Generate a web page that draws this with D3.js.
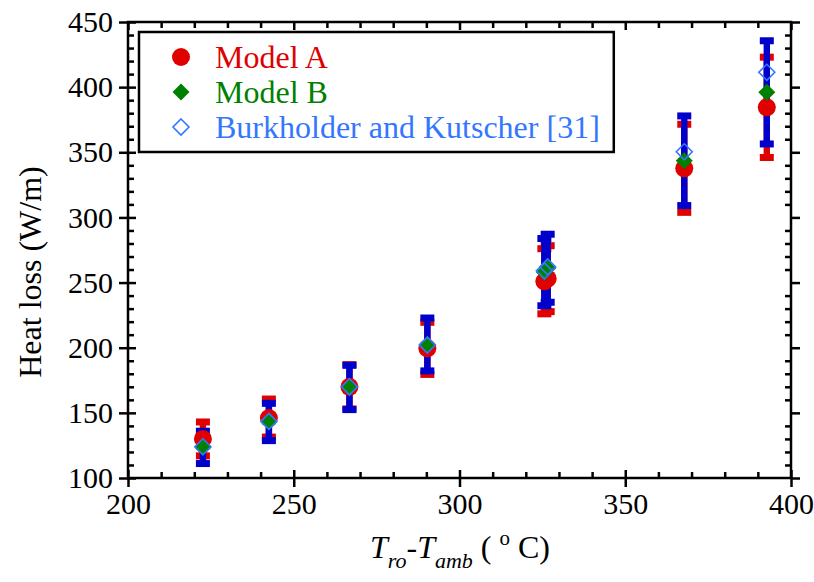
<!DOCTYPE html>
<html>
<head>
<meta charset="utf-8">
<script src="https://cdn.jsdelivr.net/npm/d3@7/dist/d3.min.js"></script>
<style>
  html, body { margin: 0; padding: 0; background: #fff; }
  svg { display: block; }
  text { font-family: "Liberation Serif", "Times New Roman", serif; }
</style>
</head>
<body>
<svg id="chart" width="814" height="582"></svg>
<script>
// ---------------- data ----------------
const tempDiff   = [222.6, 242.5, 266.8, 290.3, 325.6, 326.6, 367.8, 392.7];
const modelA     = [130, 146, 170, 199.5, 251, 253, 337.7, 384.5];
const modelAErr  = [13, 14.6, 17, 20, 25, 25.3, 33.8, 38.5];
const modelB     = [123.5, 143, 169.5, 202.5, 258, 261, 343.5, 396];
const modelBErr  = [12.4, 14.3, 17, 20.3, 25.8, 26.1, 34.4, 39.6];
const burkholder = [124, 143.5, 170, 202, 259, 262, 350.4, 411.4];

const xTicks = [200, 250, 300, 350, 400];
const yTicks = [100, 150, 200, 250, 300, 350, 400, 450];
const legendLabels = ["Model A", "Model B", "Burkholder and Kutscher [31]"];

// ---------------- layout ----------------
const svg = d3.select("#chart");
const pL = 128, pR = 791, pT = 22, pB = 478;
const x = d3.scaleLinear().domain([200, 400]).range([pL, pR]);
const y = d3.scaleLinear().domain([100, 450]).range([pB, pT]);

const RED = "#e00000", GREEN = "#008000", DBLUE = "#0000cc", LBLUE = "#3377ff";
const xMinor = d3.range(200, 401, 10).filter(v => v % 50 !== 0);
const yMinor = d3.range(100, 451, 10).filter(v => v % 50 !== 0);

function styleAxis(g) {
  g.select(".domain").remove();
  g.selectAll("line").attr("stroke", "#000").attr("stroke-width", 2.5);
  g.selectAll("text").attr("fill", "#000").attr("font-size", 30)
    .attr("font-family", "Liberation Serif, Times New Roman, serif");
}
function noLabel(a) { return a.tickFormat(""); }

// bottom axis
svg.append("g").attr("transform", `translate(0,${pB})`)
  .call(d3.axisBottom(x).tickValues(xTicks).tickSize(9).tickPadding(6).tickFormat(d3.format("d")))
  .call(styleAxis);
svg.append("g").attr("transform", `translate(0,${pB})`)
  .call(noLabel(d3.axisBottom(x).tickValues(xTicks).tickSize(-8))).call(styleAxis);
svg.append("g").attr("transform", `translate(0,${pB})`)
  .call(noLabel(d3.axisBottom(x).tickValues(xMinor).tickSize(-6))).call(styleAxis);
// top axis
svg.append("g").attr("transform", `translate(0,${pT})`)
  .call(noLabel(d3.axisTop(x).tickValues(xTicks).tickSize(-8))).call(styleAxis);
svg.append("g").attr("transform", `translate(0,${pT})`)
  .call(noLabel(d3.axisTop(x).tickValues(xMinor).tickSize(-6))).call(styleAxis);
// left axis
svg.append("g").attr("transform", `translate(${pL},0)`)
  .call(d3.axisLeft(y).tickValues(yTicks).tickSize(9).tickPadding(6).tickFormat(d3.format("d")))
  .call(styleAxis);
svg.append("g").attr("transform", `translate(${pL},0)`)
  .call(noLabel(d3.axisLeft(y).tickValues(yTicks).tickSize(-8))).call(styleAxis);
svg.append("g").attr("transform", `translate(${pL},0)`)
  .call(noLabel(d3.axisLeft(y).tickValues(yMinor).tickSize(-6))).call(styleAxis);
// right axis
svg.append("g").attr("transform", `translate(${pR},0)`)
  .call(noLabel(d3.axisRight(y).tickValues(yTicks).tickSize(9))).call(styleAxis);
svg.append("g").attr("transform", `translate(${pR},0)`)
  .call(noLabel(d3.axisRight(y).tickValues(yMinor).tickSize(-6))).call(styleAxis);

// frame
svg.append("rect").attr("x", pL).attr("y", pT)
  .attr("width", pR - pL).attr("height", pB - pT)
  .attr("fill", "none").attr("stroke", "#000").attr("stroke-width", 2.5);

// ---------------- error bars ----------------
function errorBars(vals, errs, color) {
  const g = svg.append("g").attr("fill", color);
  vals.forEach((v, i) => {
    const cx = x(tempDiff[i]);
    const yHi = y(v + errs[i]), yLo = y(v - errs[i]);
    g.append("rect").attr("x", cx - 3.2).attr("y", yHi).attr("width", 6.4).attr("height", yLo - yHi);
    g.append("rect").attr("x", cx - 7).attr("y", yHi - 3.5).attr("width", 14).attr("height", 7);
    g.append("rect").attr("x", cx - 7).attr("y", yLo - 3.5).attr("width", 14).attr("height", 7);
  });
}
errorBars(modelA, modelAErr, RED);
errorBars(modelB, modelBErr, DBLUE);

// ---------------- markers ----------------
const diamond = (r) => `M0,${-r}L${r},0L0,${r}L${-r},0Z`;

svg.append("g").selectAll("circle").data(modelA).join("circle")
  .attr("cx", (d, i) => x(tempDiff[i])).attr("cy", d => y(d))
  .attr("r", 9).attr("fill", RED);

svg.append("g").selectAll("path").data(modelB).join("path")
  .attr("transform", (d, i) => `translate(${x(tempDiff[i])},${y(d)})`)
  .attr("d", diamond(8.5)).attr("fill", GREEN);

svg.append("g").selectAll("path").data(burkholder).join("path")
  .attr("transform", (d, i) => `translate(${x(tempDiff[i])},${y(d)})`)
  .attr("d", diamond(8)).attr("fill", "none").attr("stroke", LBLUE).attr("stroke-width", 1.6);

// ---------------- legend ----------------
const lg = svg.append("g");
const rowsY = [57, 92, 127];
const legColors = [RED, GREEN, LBLUE];
const legTexts = legendLabels.map((t, i) =>
  lg.append("text").attr("x", 215).attr("y", rowsY[i] + 11)
    .attr("font-size", 32).attr("fill", legColors[i]).text(t));
const maxW = d3.max(legTexts, t => t.node().getComputedTextLength());
lg.insert("rect", ":first-child").attr("x", 139).attr("y", 32)
  .attr("width", 215 + maxW + 14 - 139).attr("height", 120)
  .attr("fill", "#fff").attr("stroke", "#000").attr("stroke-width", 2.5);
lg.append("circle").attr("cx", 181).attr("cy", rowsY[0]).attr("r", 9).attr("fill", RED);
lg.append("path").attr("transform", `translate(181,${rowsY[1]})`).attr("d", diamond(8.5)).attr("fill", GREEN);
lg.append("path").attr("transform", `translate(181,${rowsY[2]})`).attr("d", diamond(8))
  .attr("fill", "none").attr("stroke", LBLUE).attr("stroke-width", 1.6);

// ---------------- axis titles ----------------
svg.append("text").attr("transform", "translate(41,272) rotate(-90)")
  .attr("text-anchor", "middle").attr("font-size", 32).attr("fill", "#000")
  .text("Heat loss (W/m)");

const xt = svg.append("text").attr("x", 460).attr("y", 558).attr("text-anchor", "middle")
  .attr("font-size", 32).attr("fill", "#000");
xt.append("tspan").attr("font-style", "italic").text("T");
xt.append("tspan").attr("font-style", "italic").attr("font-size", 22).attr("dy", 10).text("ro");
xt.append("tspan").attr("dy", -10).text("-");
xt.append("tspan").attr("font-style", "italic").text("T");
xt.append("tspan").attr("font-style", "italic").attr("font-size", 22).attr("dy", 10).text("amb");
xt.append("tspan").attr("dy", -10).text(" ( ");
xt.append("tspan").attr("font-size", 21).attr("dy", -13).text("o");
xt.append("tspan").attr("dy", 13).text(" C)");
</script>
</body>
</html>
